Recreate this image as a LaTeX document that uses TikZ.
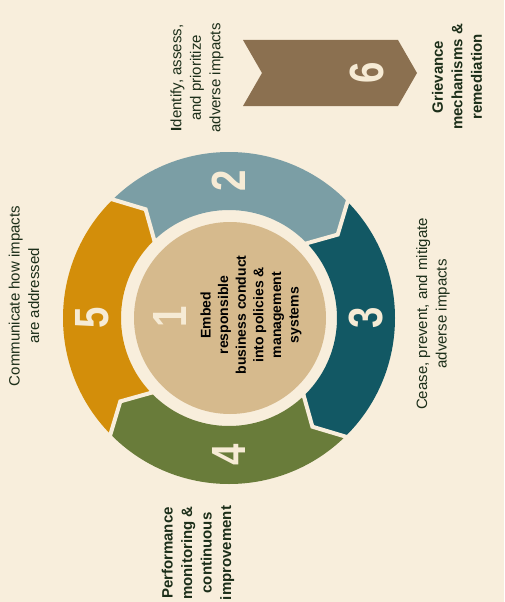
\documentclass[tikz,border=0pt]{standalone}
\usepackage{fontspec}
\setmainfont{Liberation Sans}
\definecolor{bgc}{HTML}{F8EEDC}
\definecolor{segtwo}{HTML}{7B9EA5}
\definecolor{segthree}{HTML}{125864}
\definecolor{segfour}{HTML}{697C3A}
\definecolor{segfive}{HTML}{D38E0A}
\definecolor{diskc}{HTML}{D6BA8D}
\definecolor{chevc}{HTML}{8B7050}
\definecolor{numc}{HTML}{F6EBD5}
\definecolor{txtc}{HTML}{1C2E19}
\tikzset{
  lbl/.style={rotate=90, align=center, text=txtc, inner sep=0pt, font=\fontsize{15}{19.5}\selectfont},
  num/.style={rotate=90, xscale=0.8, text=numc, inner sep=0pt, font=\fontsize{48}{48}\selectfont\bfseries},
  gapline/.style={draw=bgc, line width=4pt, line join=miter}
}
\newcommand{\segpath}[2]{%
  (#1:166) arc[start angle=#1, end angle=#2, radius=166] -- ({#2-7.5}:137) -- (#2:108)
  arc[start angle=#2, end angle=#1, radius=108] -- ({#1-7.5}:137) -- cycle}
\begin{document}
\begin{tikzpicture}[x=1pt,y=1pt]
\fill[bgc] (0,0) rectangle (504,-602);
\useasboundingbox (0,0) rectangle (504,-602);
\begin{scope}[shift={(229,-318)}]
  \fill[segtwo] \segpath{135}{45};
  \fill[segthree] \segpath{45}{-45};
  \fill[segfour] \segpath{-45}{-135};
  \fill[segfive] \segpath{-135}{-225};
  \foreach \a in {135,45,-45,-135}{
    \draw[gapline] (\a:169) -- ({\a-7.5}:137) -- (\a:104);
  }
  \node[circle, fill=diskc, minimum size=192pt, inner sep=0pt] (disk) at (1,0) {};
\end{scope}
\node[num] (n1) at (170,-317) {1};
\node[rotate=90, align=center, inner sep=0pt, font=\fontsize{14}{17.6}\selectfont\bfseries] (t1) at (251,-315)
  {Embed\\responsible\\business conduct\\into policies \&\\management\\systems};
\node[num] (n2) at (229,-181) {2};
\node[num] (n3) at (366,-318) {3};
\node[num] (n4) at (229,-455) {4};
\node[num] (n5) at (92,-318) {5};
% chevron 6
\fill[chevc] (243,-40) -- (398,-40) -- (417,-73) -- (398,-106) -- (243,-106) -- (262,-73) -- cycle;
\node[num] (n6) at (367,-73) {6};
\node[lbl] (t2) at (197,-78) {{\bfseries I}dentify, assess,\\and prioritize\\adverse impacts};
\node[lbl, font=\fontsize{15}{19.5}\selectfont\bfseries] (t6) at (457,-77) {Grievance\\mechanisms \&\\remediation};
\node[lbl] (t3) at (433,-314) {Cease, prevent, and mitigate\\adverse impacts};
\node[lbl] (t5) at (24,-296) {Communicate how impacts\\are addressed};
\node[lbl, font=\fontsize{15}{19.5}\selectfont\bfseries] (t4) at (198,-553) {Performance\\monitoring \&\\continuous\\improvement};
\end{tikzpicture}
\end{document}
